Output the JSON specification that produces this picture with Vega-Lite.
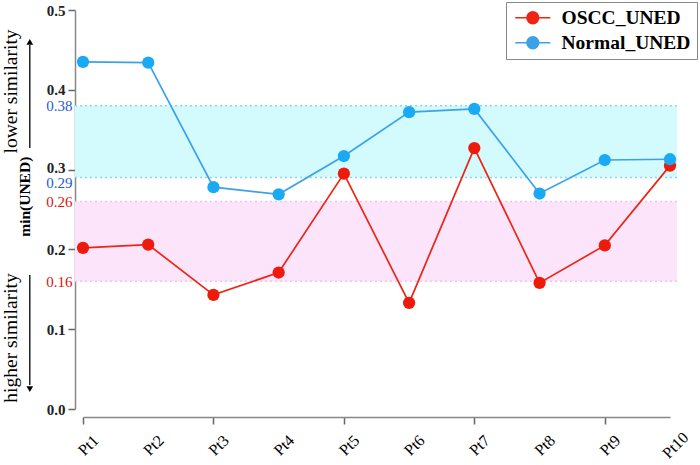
{
  "$schema": "https://vega.github.io/schema/vega-lite/v6.json",
  "padding": {"left": 0, "top": 1, "right": 0, "bottom": 0},
  "bounds": "flush",
  "spacing": 34,
  "config": {"view": {"stroke": null}, "font": "Liberation Serif"},
  "datasets": {
    "uned": [
      {"pt": "Pt1", "series": "OSCC_UNED", "value": 0.202},
      {"pt": "Pt2", "series": "OSCC_UNED", "value": 0.206},
      {"pt": "Pt3", "series": "OSCC_UNED", "value": 0.143},
      {"pt": "Pt4", "series": "OSCC_UNED", "value": 0.171},
      {"pt": "Pt5", "series": "OSCC_UNED", "value": 0.295},
      {"pt": "Pt6", "series": "OSCC_UNED", "value": 0.133},
      {"pt": "Pt7", "series": "OSCC_UNED", "value": 0.327},
      {"pt": "Pt8", "series": "OSCC_UNED", "value": 0.158},
      {"pt": "Pt9", "series": "OSCC_UNED", "value": 0.205},
      {"pt": "Pt10", "series": "OSCC_UNED", "value": 0.305},
      {"pt": "Pt1", "series": "Normal_UNED", "value": 0.435},
      {"pt": "Pt2", "series": "Normal_UNED", "value": 0.434},
      {"pt": "Pt3", "series": "Normal_UNED", "value": 0.278},
      {"pt": "Pt4", "series": "Normal_UNED", "value": 0.269},
      {"pt": "Pt5", "series": "Normal_UNED", "value": 0.317},
      {"pt": "Pt6", "series": "Normal_UNED", "value": 0.372},
      {"pt": "Pt7", "series": "Normal_UNED", "value": 0.376},
      {"pt": "Pt8", "series": "Normal_UNED", "value": 0.270},
      {"pt": "Pt9", "series": "Normal_UNED", "value": 0.312},
      {"pt": "Pt10", "series": "Normal_UNED", "value": 0.313}
    ],
    "bands": [
      {"band": "Normal", "lo": 0.29, "hi": 0.38},
      {"band": "OSCC", "lo": 0.16, "hi": 0.26}
    ]
  },
  "hconcat": [
    {
      "width": 40,
      "height": 399,
      "data": {"values": [{}]},
      "layer": [
        {
          "mark": {"type": "text", "angle": 270, "fontSize": 19.5, "color": "#000", "baseline": "middle", "align": "center"},
          "encoding": {
            "x": {"datum": 0.25, "type": "quantitative", "scale": {"domain": [0, 1]}, "axis": null},
            "y": {"datum": 0.398, "type": "quantitative", "scale": {"domain": [0, 0.5], "nice": false}, "axis": null},
            "text": {"value": "lower similarity"}
          }
        },
        {
          "mark": {"type": "text", "angle": 270, "fontSize": 19.5, "color": "#000", "baseline": "middle", "align": "center"},
          "encoding": {
            "x": {"datum": 0.25, "type": "quantitative"},
            "y": {"datum": 0.089, "type": "quantitative"},
            "text": {"value": "higher similarity"}
          }
        },
        {
          "mark": {"type": "text", "angle": 270, "fontSize": 15.5, "fontWeight": "bold", "color": "#000", "baseline": "middle", "align": "center"},
          "encoding": {
            "x": {"datum": 0.6, "type": "quantitative"},
            "y": {"datum": 0.266, "type": "quantitative"},
            "text": {"value": "min(UNED)"}
          }
        },
        {
          "mark": {"type": "rule", "color": "#000", "strokeWidth": 1.3},
          "encoding": {
            "x": {"datum": 0.72, "type": "quantitative"},
            "y": {"datum": 0.327, "type": "quantitative"},
            "y2": {"datum": 0.456}
          }
        },
        {
          "mark": {"type": "point", "shape": "triangle-up", "filled": true, "color": "#000", "size": 45, "opacity": 1},
          "encoding": {
            "x": {"datum": 0.72, "type": "quantitative"},
            "y": {"datum": 0.46, "type": "quantitative"}
          }
        },
        {
          "mark": {"type": "rule", "color": "#000", "strokeWidth": 1.3},
          "encoding": {
            "x": {"datum": 0.72, "type": "quantitative"},
            "y": {"datum": 0.168, "type": "quantitative"},
            "y2": {"datum": 0.03}
          }
        },
        {
          "mark": {"type": "point", "shape": "triangle-down", "filled": true, "color": "#000", "size": 45, "opacity": 1},
          "encoding": {
            "x": {"datum": 0.72, "type": "quantitative"},
            "y": {"datum": 0.025, "type": "quantitative"}
          }
        }
      ]
    },
    {
      "width": 595,
      "height": 399,
      "encoding": {
        "x": {
          "field": "pt", "type": "ordinal",
          "scale": {"type": "point", "domain": ["Pt1","Pt2","Pt3","Pt4","Pt5","Pt6","Pt7","Pt8","Pt9","Pt10"], "range": [8, 595], "padding": 0},
          "axis": {
            "title": null, "offset": 8, "domainColor": "#888", "domainWidth": 1.5,
            "tickSize": 7, "tickWidth": 1.5,
            "tickColor": {"condition": {"test": "indexof(['Pt2','Pt4','Pt6','Pt8','Pt10'], datum.value) >= 0", "value": "transparent"}, "value": "#666"},
            "labelAngle": -45, "labelAlign": "center", "labelBaseline": "middle", "labelPadding": 21, "labelOffset": 5,
            "labelFontSize": 16, "labelColor": "#000", "labelFont": "Liberation Serif"
          }
        }
      },
      "layer": [
        {
          "data": {"name": "bands"},
          "mark": {"type": "rect", "xOffset": -8, "x2Offset": 7},
          "encoding": {
            "x": {"datum": "Pt1"},
            "x2": {"datum": "Pt10"},
            "y": {"field": "lo", "type": "quantitative", "scale": {"domain": [0, 0.5], "nice": false}},
            "y2": {"field": "hi"},
            "fill": {"condition": {"test": "datum.band == 'Normal'", "value": "#d3fafd"}, "value": "#fce4fb"}
          }
        },
        {
          "data": {"name": "bands"},
          "mark": {"type": "rule", "strokeDash": [2, 3], "strokeWidth": 1.5, "xOffset": -8, "x2Offset": 7},
          "encoding": {
            "x": {"datum": "Pt1"},
            "x2": {"datum": "Pt10"},
            "y": {"field": "lo", "type": "quantitative"},
            "color": {"condition": {"test": "datum.band == 'Normal'", "value": "#8ad8ee"}, "value": "#f0c4e8"}
          }
        },
        {
          "data": {"name": "bands"},
          "mark": {"type": "rule", "strokeDash": [2, 3], "strokeWidth": 1.5, "xOffset": -8, "x2Offset": 7},
          "encoding": {
            "x": {"datum": "Pt1"},
            "x2": {"datum": "Pt10"},
            "y": {"field": "hi", "type": "quantitative"},
            "color": {"condition": {"test": "datum.band == 'Normal'", "value": "#8ad8ee"}, "value": "#f0c4e8"}
          }
        },
        {
          "mark": {"type": "rule", "color": "#888", "strokeWidth": 1.5},
          "encoding": {
            "y": {"datum": 0, "type": "quantitative"}
          }
        },
        {
          "data": {"name": "uned"},
          "mark": {"type": "line", "strokeWidth": 1.7},
          "encoding": {
            "y": {
              "field": "value", "type": "quantitative",
              "axis": {
                "title": null, "grid": false,
                "values": [0, 0.1, 0.2, 0.3, 0.4, 0.5, 0.16, 0.26, 0.29, 0.38],
                "labelExpr": "datum.value === 0 ? '0.0' : format(datum.value, '.2~f')",
                "labelOverlap": false, "labelBound": false, "labelFlush": false,
                "domainColor": "#888", "domainWidth": 1.5,
                "tickSize": 7, "tickWidth": 1.5,
                "tickColor": {"condition": {"test": "indexof([0.16, 0.26, 0.29, 0.38], datum.value) >= 0", "value": "transparent"}, "value": "#666"},
                "labelFontSize": 15, "labelFont": "Liberation Serif",
                "labelFontWeight": {"condition": {"test": "indexof([0.16, 0.26, 0.29, 0.38], datum.value) >= 0", "value": "normal"}, "value": "bold"},
                "labelColor": {"condition": [{"test": "datum.value == 0.38 || datum.value == 0.29", "value": "#1f5bd6"}, {"test": "datum.value == 0.26 || datum.value == 0.16", "value": "#e0140c"}], "value": "#222"},
                "labelPadding": {"condition": {"test": "indexof([0.16, 0.26, 0.29, 0.38], datum.value) >= 0", "value": -4}, "value": 3},
                "labelOffset": {"condition": [{"test": "datum.value == 0.29", "value": 5}, {"test": "datum.value == 0.3", "value": -2}], "value": 0}
              }
            },
            "color": {
              "field": "series", "type": "nominal",
              "scale": {"domain": ["OSCC_UNED", "Normal_UNED"], "range": ["#ee2414", "#3ba2ea"]},
              "legend": {
                "title": null, "orient": "none", "legendX": 505, "legendY": -8,
                "strokeColor": "#888", "fillColor": "#ffffff", "padding": 6,
                "symbolType": "M-1,0H4.4M0.8,0A0.9,0.9,0,1,1,2.6,0A0.9,0.9,0,1,1,0.8,0M1.05,0A0.65,0.65,0,1,1,2.35,0A0.65,0.65,0,1,1,1.05,0M1.3,0A0.4,0.4,0,1,1,2.1,0A0.4,0.4,0,1,1,1.3,0M1.55,0A0.15,0.15,0,1,1,1.85,0A0.15,0.15,0,1,1,1.55,0",
                "symbolSize": 169, "symbolStrokeWidth": 1.6, "symbolOpacity": 1,
                "labelOffset": 30, "labelFontSize": 19.5, "labelFontWeight": "bold", "labelFont": "Liberation Serif", "labelColor": "#000",
                "rowPadding": 4
              }
            }
          }
        },
        {
          "data": {"name": "uned"},
          "mark": {"type": "point", "filled": true, "size": 150, "opacity": 1},
          "encoding": {
            "y": {"field": "value", "type": "quantitative"},
            "fill": {
              "field": "series", "type": "nominal",
              "scale": {"domain": ["OSCC_UNED", "Normal_UNED"], "range": ["#ee1a0c", "#1aaaf4"]},
              "legend": null
            }
          }
        }
      ]
    }
  ]
}
